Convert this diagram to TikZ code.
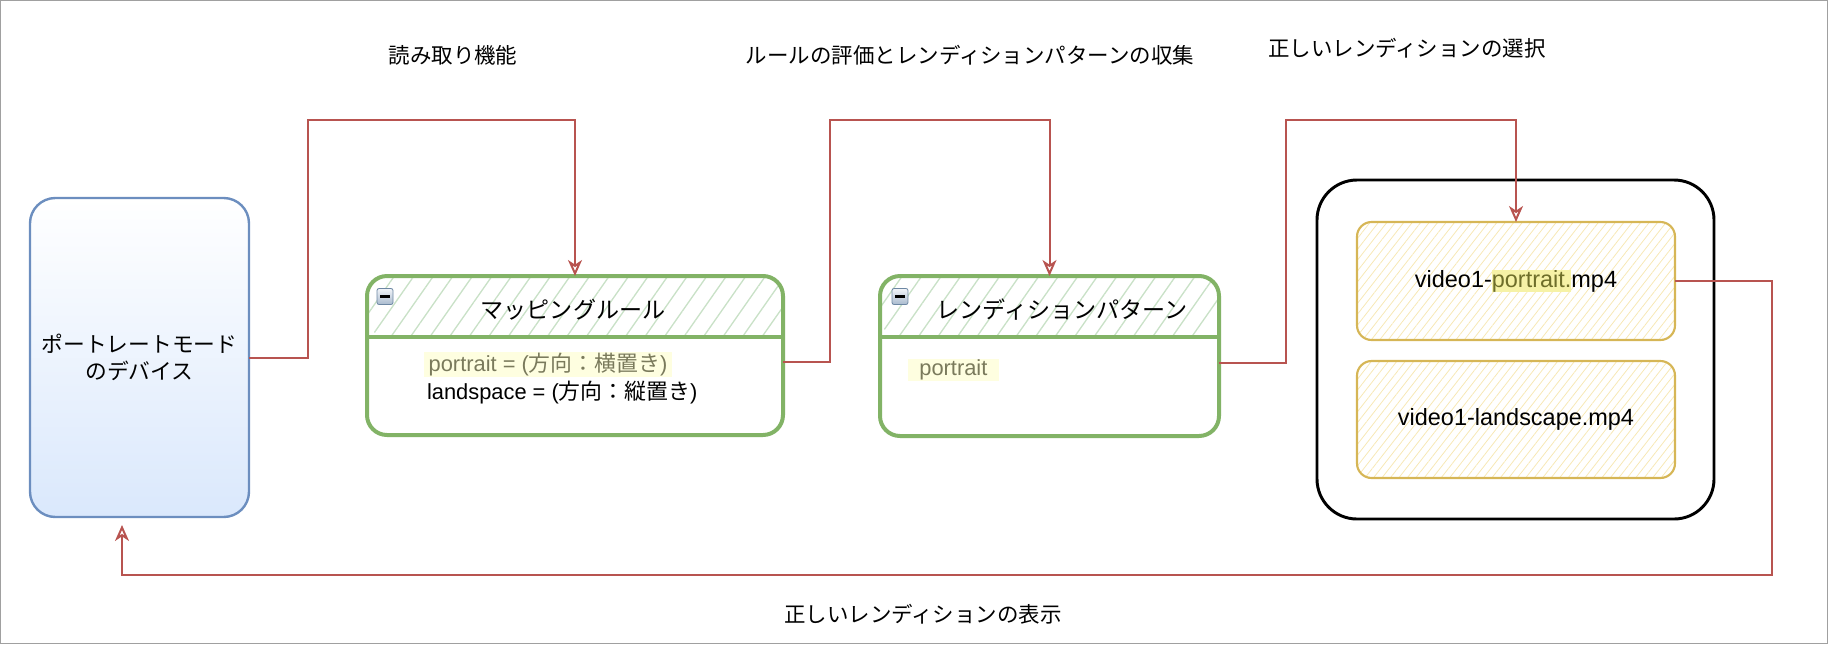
\documentclass[tikz,border=0pt]{standalone}
\usepackage{fontspec}
\setmainfont{Noto Sans CJK JP}
\newfontfamily\arialf{Liberation Sans}
\usetikzlibrary{arrows.meta,patterns.meta,calc}
\definecolor{devline}{HTML}{6C8EBF}
\definecolor{devfill}{HTML}{DAE8FC}
\definecolor{grline}{HTML}{82B366}
\definecolor{grhatch}{HTML}{C9E1C7}
\definecolor{ylline}{HTML}{D6B656}
\definecolor{ylhatch}{HTML}{F7E8B5}
\definecolor{connc}{HTML}{B85450}
\definecolor{hl}{HTML}{FEFEE0}
\definecolor{hlY}{HTML}{F6F2A6}
\definecolor{hltext}{HTML}{7A7A5C}
\definecolor{olivetext}{HTML}{6E6E2A}
\definecolor{framec}{HTML}{A0A0A0}
\definecolor{iconline}{HTML}{6D87A3}
\definecolor{icontop}{HTML}{F2F5F9}
\definecolor{iconbot}{HTML}{A9BACE}
\begin{document}
\begin{tikzpicture}[x=0.75pt,y=-0.75pt,
  every node/.style={inner sep=0pt, outer sep=0pt},
  devbox/.style={draw=devline, line width=1.8pt, rounded corners=19pt,
    top color=white, bottom color=devfill,
    minimum width=164.25pt, minimum height=239.25pt,
    align=center, font=\fontsize{16.3}{20.25}\selectfont},
  grbox/.style={draw=grline, line width=3pt, rounded corners=15pt,
    path picture={
      \fill[pattern={Lines[angle=55,distance=12pt,line width=1pt]}, pattern color=grhatch]
        (path picture bounding box.north west) rectangle ([yshift=-45.75pt]path picture bounding box.north east);
      \draw[grline, line width=3pt]
        ([yshift=-45.75pt]path picture bounding box.north west) -- ([yshift=-45.75pt]path picture bounding box.north east);
    }},
  ylbox/.style={draw=ylline, line width=1.6pt, rounded corners=11pt,
    minimum width=238.5pt, minimum height=88.5pt,
    font=\arialf\fontsize{17.6}{21}\selectfont,
    path picture={
      \fill[pattern={Lines[angle=52,distance=5pt,line width=0.6pt]}, pattern color=ylhatch]
        (path picture bounding box.south west) rectangle (path picture bounding box.north east);
    }},
  contbox/.style={draw=black, line width=2.2pt, rounded corners=30pt},
  titletext/.style={font=\fontsize{17.3}{20}\selectfont},
  bodytext/.style={font=\fontsize{16.4}{19}\selectfont},
  hlnode/.style={bodytext, fill=hl, text=hltext, minimum height=18.75pt},
  lbl/.style={font=\fontsize{16.1}{19}\selectfont},
  minusicon/.style={draw=iconline, line width=0.6pt, rounded corners=1.5pt,
    top color=icontop, bottom color=iconbot, minimum size=12pt,
    path picture={\draw[black, line width=1.8pt]
      ([xshift=-3.6pt]path picture bounding box.center) -- ([xshift=3.6pt]path picture bounding box.center);}},
  connector/.style={draw=connc, line width=1.5pt,
    -{Stealth[open, length=12pt, width=10.5pt, inset=3.5pt]}}
]
\useasboundingbox (0,0) rectangle (1828,644);
\draw[framec, line width=0.75pt] (0.5,0.5) rectangle (1827.5,643.5);

% device
\node[devbox] (dev) at (139.5,357.5) {ポートレートモード\\のデバイス};

% mapping rule
\node[grbox, minimum width=312pt, minimum height=119.25pt] (map) at (575,355.5) {};
\node[titletext] (maptitle) at (573,310) {マッピングルール};
\node[minusicon] (mi1) at (385,296.5) {};
\node[hlnode, anchor=west, inner xsep=3.5pt] (mapl1) at (424,364.5) {{\arialf portrait = (}方向：横置き{\arialf )}};
\node[bodytext, anchor=west] (mapl2) at (427,393) {{\arialf landspace = (}方向：縦置き{\arialf )}};

% rendition pattern
\node[grbox, minimum width=254.25pt, minimum height=120pt] (ren) at (1049.5,356) {};
\node[titletext] (rentitle) at (1062,310) {レンディションパターン};
\node[minusicon] (mi2) at (900,296.5) {};
\node[hlnode, anchor=west, inner xsep=8.5pt, minimum height=16.5pt] (renl1) at (908,370) {\arialf portrait};

% container with files
\node[contbox, minimum width=297.75pt, minimum height=254.25pt] (cont) at (1515.5,349.5) {};
\node[ylbox] (v1) at (1516,281) {video1-{\setlength{\fboxsep}{0pt}\colorbox{hlY}{\textcolor{olivetext}{portrait.}}}mp4};
\node[ylbox, minimum height=87.75pt] (v2) at (1516,419.5) {video1-landscape.mp4};

% connectors
\coordinate (k1) at (308,120);
\coordinate (k2) at (830,120);
\coordinate (k3) at (1286,120);
\coordinate (k4) at (1772,575);
\coordinate (devin) at (122,525);
\draw[connector] (dev.east) -| (k1) -| (map.north);
\draw[connector] ($(map.east)+(0,6.5)$) -| (k2) -| (ren.north);
\draw[connector] ($(ren.east)+(0,6.5)$) -| (k3) -| (v1.north);
\draw[connector] (v1.east) -| (k4) -| (devin);

% labels
\node[lbl] (t1) at (453,55) {読み取り機能};
\node[lbl] (t2) at (970,55) {ルールの評価とレンディションパターンの収集};
\node[lbl] (t3) at (1407,48) {正しいレンディションの選択};
\node[lbl] (t4) at (923,614) {正しいレンディションの表示};
\end{tikzpicture}
\end{document}
